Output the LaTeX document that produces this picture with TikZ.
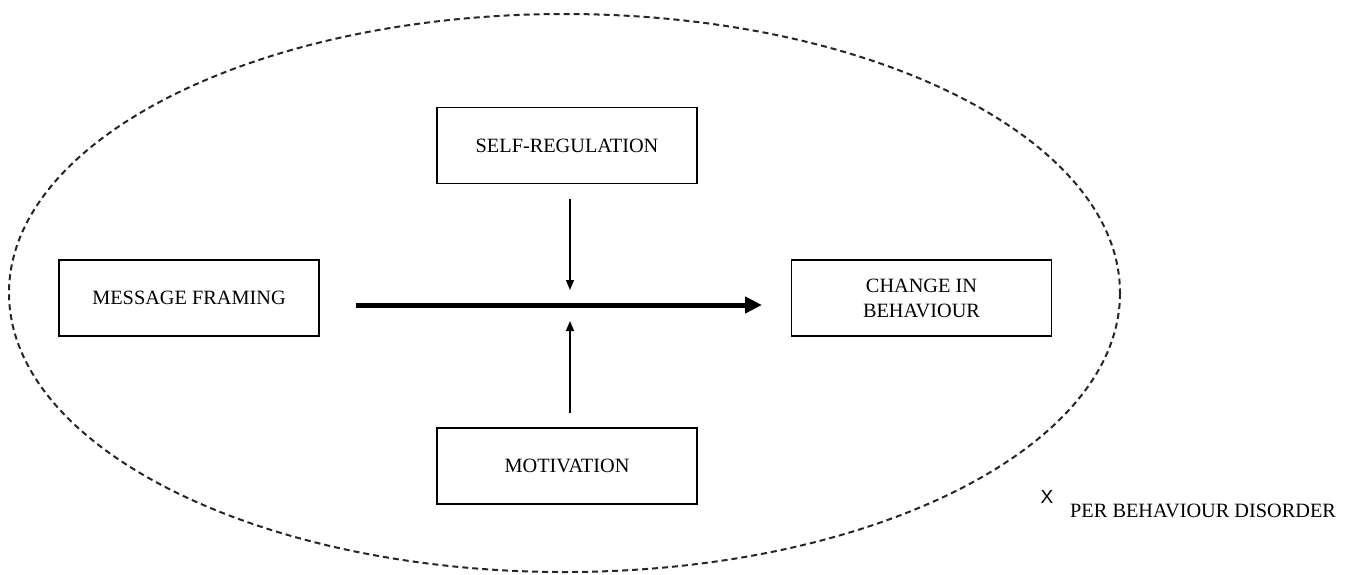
\documentclass[tikz,border=0pt]{standalone}
\usepackage{fontspec}
\setmainfont{Liberation Serif}
\newfontfamily\xsans{Liberation Sans}
\usetikzlibrary{arrows.meta}
\begin{document}
\begin{tikzpicture}[x=1pt,y=-1pt,
  boxnode/.style={draw, line width=1.8pt, minimum width=260pt, minimum height=76pt, inner sep=0pt, font=\fontsize{20.3}{25}\selectfont, align=center},
  mainarrow/.style={line width=5pt, -{Triangle[length=17pt,width=16pt]}},
  smallarrow/.style={line width=1.4pt, -{Triangle[length=10pt,width=8pt]}},
  boundary/.style={draw=black!85, line width=2pt, dash pattern=on 6pt off 4pt}
]
\useasboundingbox (0,0) rectangle (1353,574);
\fill[white] (0,0) rectangle (1353,574);
\draw[boundary] (564.5,293) ellipse [x radius=555.5, y radius=279];
\node[boxnode] (mf) at (189,298) {MESSAGE FRAMING};
\node[boxnode] (sr) at (567,145.5) {SELF-REGULATION};
\node[boxnode] (cb) at (921.5,298) {CHANGE IN\\BEHAVIOUR};
\node[boxnode] (mot) at (567,466) {MOTIVATION};
\coordinate (ms) at (356,305);
\coordinate (me) at (762,305);
\coordinate (ds) at (570,199);
\coordinate (de) at (570,290);
\coordinate (us) at (570,413);
\coordinate (ue) at (570,321);
\draw[mainarrow] (ms) -- (me);
\draw[smallarrow] (ds) -- (de);
\draw[smallarrow] (us) -- (ue);
\node[font=\xsans\fontsize{19}{19}\selectfont, inner sep=0pt] (x) at (1047,497) {X};
\node[font=\fontsize{20.3}{20}\selectfont, inner sep=0pt, anchor=base west] (per) at (1070,517) {PER BEHAVIOUR DISORDER};
\end{tikzpicture}
\end{document}
